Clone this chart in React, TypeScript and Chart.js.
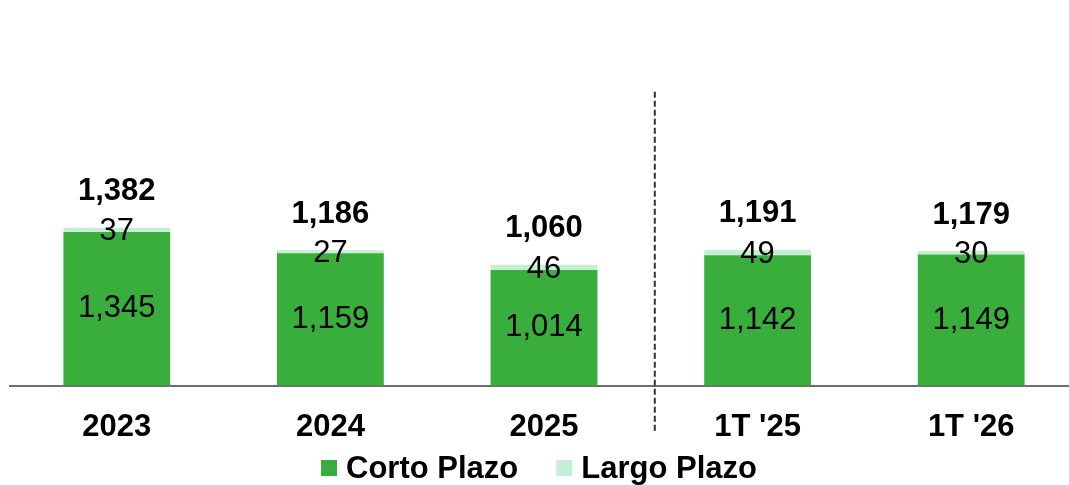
import React, { useEffect, useRef } from "react";
import { Chart, registerables } from "chart.js";

Chart.register(...registerables);

const categories = ["2023", "2024", "2025", "1T '25", "1T '26"];
const cortoPlazo = [1345, 1159, 1014, 1142, 1149];
const largoPlazo = [37, 27, 46, 49, 30];
const totals = [1382, 1186, 1060, 1191, 1179];

const FONT = "'Liberation Sans', Arial, sans-serif";
const SIZE = 31;
const fmt = (v: number) => v.toLocaleString("en-US");

const labelsPlugin = {
  id: "valueLabels",
  afterDatasetsDraw(chart: any) {
    const ctx = chart.ctx;
    const m0 = chart.getDatasetMeta(0);
    const m1 = chart.getDatasetMeta(1);
    ctx.save();
    ctx.textAlign = "center";
    ctx.textBaseline = "middle";
    ctx.fillStyle = "#000";
    m0.data.forEach((bar: any, i: number) => {
      ctx.font = `${SIZE}px ${FONT}`;
      ctx.fillText(fmt(cortoPlazo[i]), bar.x, (bar.y + bar.base) / 2);
    });
    m1.data.forEach((bar: any, i: number) => {
      ctx.font = `${SIZE}px ${FONT}`;
      ctx.fillText(fmt(largoPlazo[i]), bar.x, (bar.y + bar.base) / 2 + 2);
      ctx.font = `bold ${SIZE}px ${FONT}`;
      ctx.fillText(fmt(totals[i]), bar.x, bar.y - 36);
    });
    ctx.restore();
  },
};

const dividerPlugin = {
  id: "divider",
  afterDraw(chart: any) {
    const ctx = chart.ctx;
    const xs = chart.scales.x;
    const x = (xs.getPixelForValue(2) + xs.getPixelForValue(3)) / 2 + 4;
    const bottom = chart.chartArea.bottom;
    ctx.save();
    ctx.strokeStyle = "#333";
    ctx.lineWidth = 2;
    ctx.setLineDash([6, 3]);
    ctx.beginPath();
    ctx.moveTo(x, bottom - 294);
    ctx.lineTo(x, bottom + 47);
    ctx.stroke();
    ctx.restore();
  },
};

const legendPlugin = {
  id: "customLegend",
  afterDraw(chart: any) {
    const ctx = chart.ctx;
    const ds = chart.data.datasets;
    const box = 16;
    const gap = 9;
    const itemGap = 38;
    ctx.save();
    ctx.font = `bold ${SIZE}px ${FONT}`;
    ctx.textBaseline = "middle";
    ctx.textAlign = "left";
    const widths = ds.map((d: any) => box + gap + ctx.measureText(d.label).width);
    const total = widths.reduce((a: number, b: number) => a + b, 0) + itemGap * (ds.length - 1);
    let x = chart.width / 2 - total / 2;
    const cy = chart.height - 17;
    ds.forEach((d: any, i: number) => {
      ctx.fillStyle = d.backgroundColor;
      ctx.fillRect(x, cy - box / 2, box, box);
      ctx.fillStyle = "#000";
      ctx.fillText(d.label, x + box + gap, cy + 1);
      x += widths[i] + itemGap;
    });
    ctx.restore();
  },
};

export default function App() {
  const ref = useRef<HTMLCanvasElement | null>(null);
  useEffect(() => {
    if (!ref.current) return;
    const chart = new Chart(ref.current, {
      type: "bar",
      data: {
        labels: categories,
        datasets: [
          {
            label: "Corto Plazo",
            data: cortoPlazo,
            backgroundColor: "#3AAE3C",
            categoryPercentage: 1,
            barPercentage: 0.5,
          },
          {
            label: "Largo Plazo",
            data: largoPlazo,
            backgroundColor: "#C5EFD3",
            categoryPercentage: 1,
            barPercentage: 0.5,
          },
        ],
      },
      options: {
        responsive: false,
        animation: false,
        layout: { padding: { left: 10, right: 0, top: 20, bottom: 16 } },
        plugins: {
          tooltip: { enabled: false },
          legend: { display: false },
        },
        scales: {
          x: {
            stacked: true,
            grid: { display: false, drawTicks: false },
            border: { color: "#6e6e6e", width: 2 },
            ticks: {
              color: "#000",
              padding: 23,
              font: { family: FONT, size: SIZE, weight: "bold" },
            },
          },
          y: {
            stacked: true,
            display: false,
            min: 0,
            max: 3200,
          },
        },
      },
      plugins: [labelsPlugin, dividerPlugin, legendPlugin],
    });
    return () => chart.destroy();
  }, []);
  return (
    <div
      style={{
        position: "fixed",
        left: 0,
        top: 0,
        width: 1069,
        height: 485,
        overflow: "hidden",
        background: "#fff",
      }}
    >
      <canvas ref={ref} width={1078} height={485} style={{ width: 1078, height: 485 }} />
    </div>
  );
}
